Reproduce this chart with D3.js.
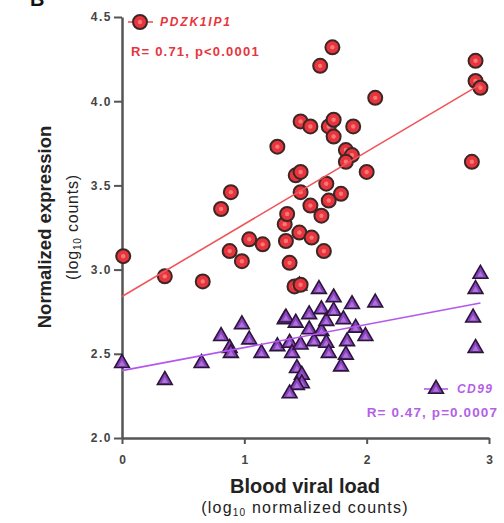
<!DOCTYPE html>
<html>
<head>
<meta charset="utf-8">
<script src="https://cdn.jsdelivr.net/npm/d3@7"></script>
<style>
  body { margin: 0; background: #fff; }
  svg { font-family: "Liberation Sans", Arial, sans-serif; }
</style>
</head>
<body>
<div id="chart"></div>
<script>
// values (x = log10 blood viral load, y = log10 expression)
const pdzkX = [0.01, 0.35, 0.66, 0.81, 0.89, 0.88, 0.98, 1.04, 1.15, 1.27, 1.33, 1.35, 1.34, 1.37, 1.41, 1.46,
  1.45, 1.42, 1.46, 1.46, 1.46, 1.54, 1.54, 1.55, 1.62, 1.63, 1.65, 1.67, 1.69, 1.69, 1.72, 1.73, 1.73, 1.79,
  1.83, 1.88, 1.83, 1.89, 2.00, 2.07, 2.86, 2.89, 2.89, 2.93];
const pdzkY = [3.08, 2.96, 2.93, 3.36, 3.46, 3.11, 3.05, 3.18, 3.15, 3.73, 3.27, 3.33, 3.17, 3.04, 2.90, 2.91,
  3.22, 3.56, 3.58, 3.88, 3.46, 3.85, 3.38, 3.19, 4.21, 3.32, 3.11, 3.51, 3.85, 3.41, 4.32, 3.89, 3.79, 3.45,
  3.71, 3.68, 3.64, 3.85, 3.58, 4.02, 3.64, 4.24, 4.12, 4.08];

const cd99X = [0.00, 0.35, 0.65, 0.81, 0.88, 0.89, 0.98, 1.04, 1.14, 1.27, 1.33, 1.34, 1.37, 1.39, 1.42, 1.45,
  1.46, 1.43, 1.47, 1.47, 1.43, 1.37, 1.53, 1.53, 1.57, 1.61, 1.63, 1.63, 1.67, 1.67, 1.69, 1.73, 1.73, 1.81,
  1.84, 1.83, 1.79, 1.88, 1.91, 1.99, 2.07, 2.93, 2.89, 2.87, 2.89];
const cd99Y = [2.45, 2.35, 2.45, 2.61, 2.54, 2.51, 2.68, 2.59, 2.51, 2.55, 2.71, 2.72, 2.57, 2.51, 2.69, 2.91,
  2.56, 2.42, 2.38, 2.33, 2.32, 2.27, 2.74, 2.65, 2.58, 2.89, 2.77, 2.64, 2.57, 2.70, 2.51, 2.84, 2.76, 2.71,
  2.58, 2.50, 2.43, 2.80, 2.66, 2.61, 2.81, 2.98, 2.89, 2.72, 2.54];

// fitted lines as drawn in the figure: [x start, x end], intercept, slope
const pdzkFit = { xs: [0, 2.93], b: 2.84, m: 0.43 };
const cd99Fit = { xs: [0, 2.93], b: 2.40, m: 0.137 };

const xTicks = [0, 1, 2, 3];
const yTicks = [2.0, 2.5, 3.0, 3.5, 4.0, 4.5];

const RED = "#e8343c", PURPLE = "#8a42c2", PURPLE_TXT = "#b45fe6", LINE_PURPLE = "#b457ee";
const AXIS = "#555";

const svg = d3.select("#chart").append("svg")
  .attr("width", 504).attr("height", 523);

const x = d3.scaleLinear().domain([0, 3]).range([122, 489]);
const y = d3.scaleLinear().domain([2, 4.5]).range([438, 17]);

// panel letter, cut off at the top like the source
svg.append("text").attr("x", 30).attr("y", 6).attr("font-size", 20)
  .attr("font-weight", "bold").attr("fill", "#111").text("B");

// axes
const yAxis = svg.append("g").attr("transform", "translate(122,0)")
  .call(d3.axisLeft(y).tickValues(yTicks).tickFormat(d3.format(".1f")).tickSize(8).tickPadding(2).tickSizeOuter(0));
const xAxis = svg.append("g").attr("transform", "translate(0,438)")
  .call(d3.axisBottom(x).tickValues(xTicks).tickFormat(d3.format("d")).tickSize(6).tickSizeOuter(0));

[yAxis, xAxis].forEach(g => {
  g.select(".domain").attr("stroke", AXIS).attr("stroke-width", 2.5);
  g.selectAll(".tick line").attr("stroke", AXIS).attr("stroke-width", 2);
  g.selectAll(".tick text").attr("fill", "#444").attr("font-size", 12)
    .attr("font-weight", "bold").attr("font-family", "Liberation Sans, Arial, sans-serif");
});
yAxis.selectAll(".tick text").attr("letter-spacing", 1.5);
xAxis.selectAll(".tick text").attr("dy", "1.45em");

// axis titles
svg.append("text").attr("x", 305).attr("y", 493).attr("text-anchor", "middle")
  .attr("font-size", 20).attr("font-weight", "bold").attr("fill", "#222").text("Blood viral load");
const xsub = svg.append("text").attr("x", 305).attr("y", 513).attr("text-anchor", "middle")
  .attr("font-size", 16).attr("fill", "#222").attr("letter-spacing", 1.2);
xsub.append("tspan").text("(log");
xsub.append("tspan").attr("font-size", 10).attr("dy", 3).text("10");
xsub.append("tspan").attr("dy", -3).text(" normalized counts)");

svg.append("text").attr("transform", "translate(51,227) rotate(-90)").attr("text-anchor", "middle")
  .attr("font-size", 18.5).attr("font-weight", "bold").attr("fill", "#222").text("Normalized expression");
const ysub = svg.append("text").attr("transform", "translate(78,227) rotate(-90)").attr("text-anchor", "middle")
  .attr("font-size", 16).attr("fill", "#222").attr("letter-spacing", 0.8);
ysub.append("tspan").text("(log");
ysub.append("tspan").attr("font-size", 10).attr("dy", 3).text("10");
ysub.append("tspan").attr("dy", -3).text(" counts)");

// regression lines
const fitLine = (fit, color) => svg.append("line")
  .attr("x1", x(fit.xs[0])).attr("y1", y(fit.b + fit.m * fit.xs[0]))
  .attr("x2", x(fit.xs[1])).attr("y2", y(fit.b + fit.m * fit.xs[1]))
  .attr("stroke", color).attr("stroke-width", 1.6);

// markers
const tri = d3.symbol().type(d3.symbolTriangle).size(95);
function drawTri(g, cx, cy) {
  g.append("path").attr("d", tri).attr("transform", `translate(${cx},${cy + 1})`)
    .attr("fill", PURPLE).attr("stroke", "#2b1638").attr("stroke-width", 1.6);
  g.append("path").attr("d", d3.symbol().type(d3.symbolTriangle).size(18))
    .attr("transform", `translate(${cx},${cy + 2})`).attr("fill", "#b680dc").attr("opacity", 0.8);
}
function drawCircle(g, cx, cy) {
  g.append("circle").attr("cx", cx).attr("cy", cy).attr("r", 7)
    .attr("fill", RED).attr("stroke", "#3d2626").attr("stroke-width", 2);
  g.append("circle").attr("cx", cx).attr("cy", cy).attr("r", 2.2)
    .attr("fill", "#f58a8a").attr("opacity", 0.8);
}

const triG = svg.append("g");
cd99X.forEach((d, i) => drawTri(triG, x(d), y(cd99Y[i])));
fitLine(cd99Fit, LINE_PURPLE);

const cirG = svg.append("g");
pdzkX.forEach((d, i) => drawCircle(cirG, x(d), y(pdzkY[i])));
fitLine(pdzkFit, "#f0555b");

// legends
const lg = svg.append("g");
lg.append("line").attr("x1", 128).attr("x2", 153).attr("y1", 22).attr("y2", 22)
  .attr("stroke", "#f0555b").attr("stroke-width", 1.6);
drawCircle(lg, 140, 22);
lg.append("text").attr("x", 160).attr("y", 26).attr("font-size", 12).attr("font-weight", "bold")
  .attr("font-style", "italic").attr("fill", RED).attr("letter-spacing", 1.8).text("PDZK1IP1");
lg.append("text").attr("x", 131).attr("y", 56).attr("font-size", 13).attr("font-weight", "bold")
  .attr("fill", RED).attr("letter-spacing", 1.2).text("R= 0.71, p<0.0001");

lg.append("line").attr("x1", 424).attr("x2", 448).attr("y1", 389).attr("y2", 389)
  .attr("stroke", LINE_PURPLE).attr("stroke-width", 1.6);
drawTri(lg, 436, 388);
lg.append("text").attr("x", 457).attr("y", 393).attr("font-size", 12).attr("font-weight", "bold")
  .attr("font-style", "italic").attr("fill", PURPLE_TXT).attr("letter-spacing", 1.4).text("CD99");
lg.append("text").attr("x", 498).attr("y", 417).attr("text-anchor", "end").attr("font-size", 13.5)
  .attr("font-weight", "bold").attr("fill", PURPLE_TXT).attr("letter-spacing", 1.1).text("R= 0.47, p=0.0007");
</script>
</body>
</html>
